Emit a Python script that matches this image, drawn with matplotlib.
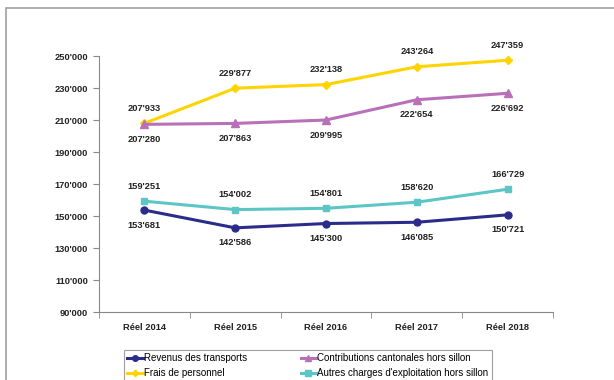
import matplotlib
matplotlib.use("Agg")
import matplotlib.pyplot as plt
from matplotlib.patches import Rectangle
from matplotlib.ticker import FuncFormatter

plt.rcParams['font.family'] = ['Liberation Sans', 'DejaVu Sans']

# Data
years = ["Réel 2014", "Réel 2015", "Réel 2016", "Réel 2017", "Réel 2018"]
revenus = [153681, 142586, 145300, 146085, 150721]
contributions = [207280, 207863, 209995, 222654, 226692]
frais = [207933, 229877, 232138, 243264, 247359]
autres = [159251, 154002, 154801, 158620, 166729]


def swiss(v):
    return f"{int(v):,}".replace(",", "'")


fig = plt.figure(figsize=(6.14, 3.8), dpi=100)
# grey frame around the chart area (open on the right / bottom edge)
fig.patches.append(Rectangle((6 / 614, -0.5), 2.0, 1 - 8 / 380 + 0.5,
                             transform=fig.transFigure, fill=False,
                             edgecolor="#A0A0A0", linewidth=1.2))

ax = fig.add_axes([99 / 614, 1 - 312 / 380, (553 - 99) / 614, (312 - 56) / 380])
x = range(len(years))

series = [
    ("Revenus des transports", revenus, "#2B2B8C", "o", 5, -1),
    ("Frais de personnel", frais, "#FFD400", "D", 4, 1),
    ("Contributions cantonales hors sillon", contributions, "#B870B8", "^", 6, -1),
    ("Autres charges d'exploitation hors sillon", autres, "#5CC6C6", "s", 5, 1),
]

lines = {}
for name, vals, col, mk, ms, side in series:
    ln, = ax.plot(x, vals, color=col, marker=mk, markersize=ms, linewidth=2.2,
                  label=name)
    lines[name] = ln
    for i, v in enumerate(vals):
        ax.annotate(swiss(v), (i, v), xytext=(0, 15 * side),
                    textcoords="offset pixels", ha="center", va="center",
                    fontsize=6.7, fontweight="bold", color="#222222")

ax.set_xlim(-0.5, len(years) - 0.5)
ax.set_ylim(90000, 250000)
ax.set_yticks(range(90000, 250001, 20000))
ax.yaxis.set_major_formatter(FuncFormatter(lambda v, p: swiss(v)))
ax.set_xticks(list(x))
ax.set_xticklabels(years)
ax.set_xticks([i - 0.5 for i in range(len(years) + 1)], minor=True)
ax.tick_params(axis="x", which="major", length=0, pad=8)
ax.tick_params(axis="x", which="minor", length=4, color="#888888")
ax.tick_params(axis="y", length=4, color="#888888", pad=4)
for lab in ax.get_xticklabels() + ax.get_yticklabels():
    lab.set_fontsize(6.7)
    lab.set_fontweight("bold")
    lab.set_color("#222222")
for s in ["top", "right"]:
    ax.spines[s].set_visible(False)
for s in ["left", "bottom"]:
    ax.spines[s].set_color("#888888")
    ax.spines[s].set_linewidth(0.8)

order = ["Revenus des transports", "Frais de personnel",
         "Contributions cantonales hors sillon",
         "Autres charges d'exploitation hors sillon"]
leg = fig.legend([lines[n] for n in order], order, ncol=2,
                 loc="upper left", bbox_to_anchor=(124 / 614, 1 - 350 / 380),
                 fontsize=7, frameon=True, fancybox=False, edgecolor="#888888",
                 handlelength=1.6, handletextpad=0.1, columnspacing=5.5,
                 borderpad=0.35, labelspacing=0.5, markerscale=0.8,
                 borderaxespad=0)
leg.get_frame().set_linewidth(0.8)

fig.savefig("out.png", dpi=100)
